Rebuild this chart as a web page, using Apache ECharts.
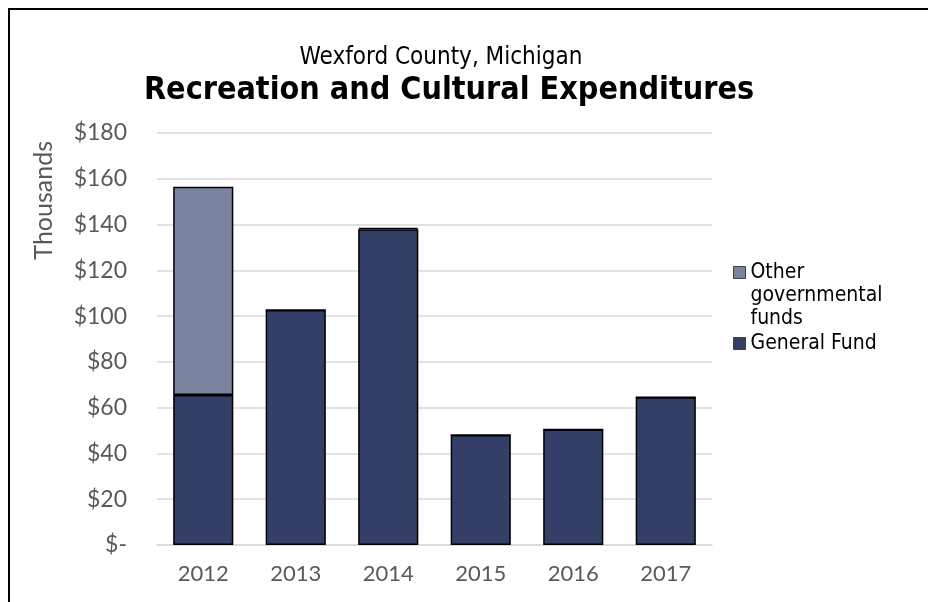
<!DOCTYPE html>
<html>
<head>
<meta charset="utf-8">
<script src="https://cdn.jsdelivr.net/npm/echarts@6/dist/echarts.min.js"></script>
<style>
  html, body { margin: 0; padding: 0; background: #fff; overflow: hidden; }
  #wrap { position: relative; width: 928px; height: 602px; overflow: hidden; }
  #chart { position: absolute; left: 0; top: 0; width: 928px; height: 602px; }
  #frame { position: absolute; left: 8px; top: 8px; width: 960px; height: 640px;
           border-left: 2px solid #000; border-top: 2px solid #000; pointer-events: none; }
</style>
</head>
<body>
<div id="wrap">
  <div id="chart"></div>
  <div id="frame"></div>
</div>
<script>
// values in thousands of dollars
var years = ['2012', '2013', '2014', '2015', '2016', '2017'];
var generalFund = [65.5, 102.7, 138, 48.1, 50.5, 64.5];
var otherFunds = [91, 0, 0.6, 0, 0, 0];
var yTicks = [0, 20, 40, 60, 80, 100, 120, 140, 160, 180];

var labelFont = 'Lato, "Open Sans", sans-serif';
var titleFont = '"DejaVu Sans Condensed", "DejaVu Sans", sans-serif';

var legendText = {
    fontFamily: titleFont, fontSize: 21, color: '#000', lineHeight: 23
};

var chart = echarts.init(document.getElementById('chart'));
var option = {
    animation: false,
    title: [
        {
            text: 'Wexford County, Michigan',
            left: 436, top: 41, textAlign: 'center',
            textStyle: { fontFamily: titleFont, fontSize: 24, fontWeight: 'normal', color: '#000' }
        },
        {
            text: 'Recreation and Cultural Expenditures',
            left: 444, top: 70, textAlign: 'center',
            textStyle: { fontFamily: titleFont, fontSize: 32, fontWeight: 'bold', color: '#000' }
        }
    ],
    graphic: [{
        type: 'text',
        left: 31, top: 141,
        rotation: Math.PI / 2,
        style: { text: 'Thousands', font: '25px ' + labelFont, fill: '#595959' }
    }],
    legend: [
        {
            // tall invisible box so the square sits beside the first text line
            orient: 'vertical',
            left: 728, top: 256,
            itemWidth: 12, itemHeight: 58,
            icon: 'path://M0,0H12V12H0Z M0,58',
            data: ['Other governmental funds'],
            formatter: function () { return 'Other\ngovernmental\nfunds'; },
            itemStyle: { borderColor: '#404040', borderWidth: 1 },
            textStyle: legendText
        },
        {
            orient: 'vertical',
            left: 728, top: 327,
            itemWidth: 12, itemHeight: 12,
            icon: 'rect',
            data: ['General Fund'],
            itemStyle: { borderColor: '#404040', borderWidth: 1 },
            textStyle: legendText
        }
    ],
    grid: { left: 157, right: 216, top: 133, bottom: 57 },
    xAxis: {
        type: 'category',
        data: years,
        axisLine: { lineStyle: { color: '#D9D9D9', width: 1.5 } },
        axisTick: { show: false },
        axisLabel: { color: '#595959', fontFamily: labelFont, fontSize: 22, margin: 18 }
    },
    yAxis: {
        type: 'value',
        min: 0, max: yTicks[yTicks.length - 1], interval: 20,
        axisLine: { show: false },
        axisTick: { show: false },
        splitLine: { lineStyle: { color: '#D9D9D9', width: 1.5 } },
        axisLabel: {
            color: '#595959', fontFamily: labelFont, fontSize: 23, margin: 30,
            formatter: function (v) { return v === 0 ? '$-' : '$' + v; }
        }
    },
    series: [
        {
            name: 'General Fund',
            type: 'bar',
            stack: 'total',
            barWidth: '65%',
            data: generalFund,
            itemStyle: { color: '#333F66', borderColor: '#000', borderWidth: 1.5 }
        },
        {
            name: 'Other governmental funds',
            type: 'bar',
            stack: 'total',
            barWidth: '65%',
            data: otherFunds,
            itemStyle: { color: '#7A849F', borderColor: '#000', borderWidth: 1.5 }
        }
    ]
};
chart.setOption(option);
</script>
</body>
</html>
